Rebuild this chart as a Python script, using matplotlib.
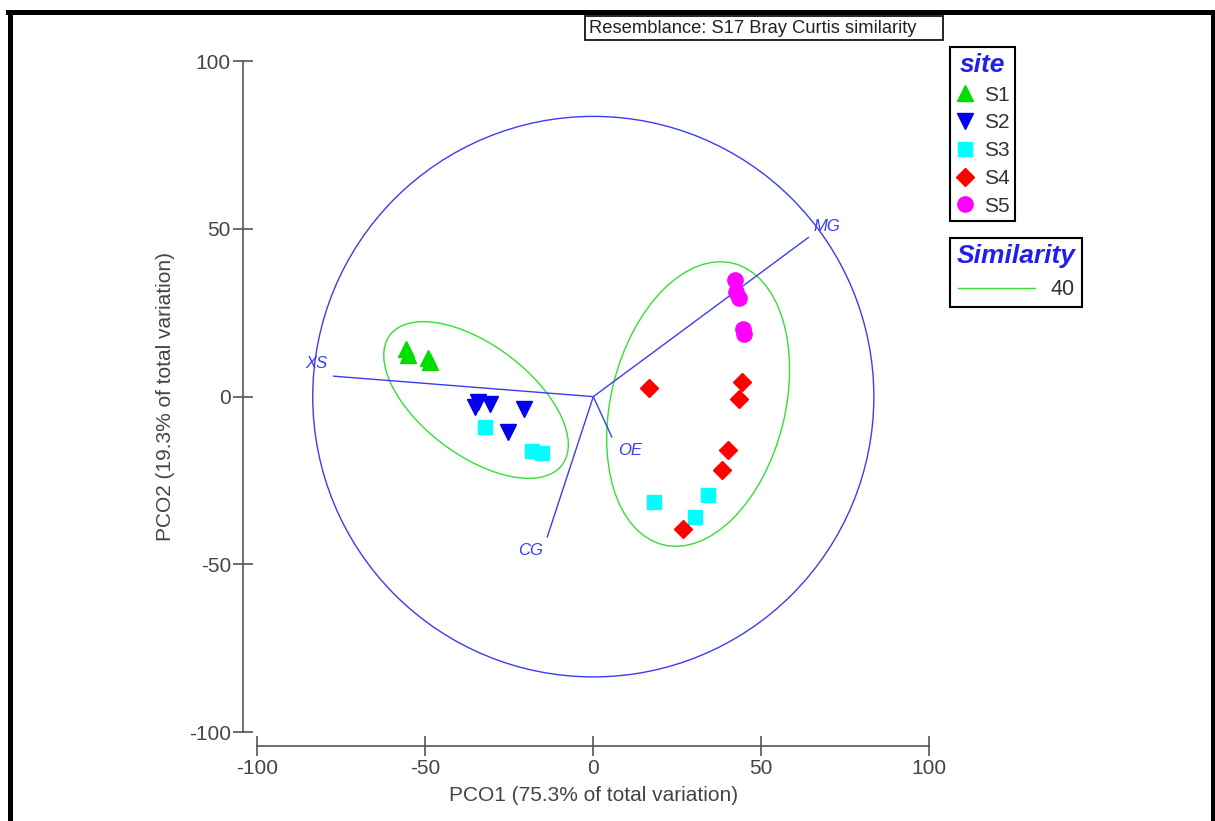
import matplotlib.pyplot as plt
import numpy as np
from matplotlib.patches import Ellipse, Circle, Rectangle
from matplotlib.lines import Line2D
from matplotlib.font_manager import FontProperties

plt.rcParams['font.family'] = ['Liberation Sans', 'DejaVu Sans']
plt.rcParams['axes.unicode_minus'] = False

# sample scores on PCO1 / PCO2, per site
s1_x = [-55.7, -55.1, -49.2, -48.6]
s1_y = [14.2, 12.4, 11.5, 10.3]
s2_x = [-35.2, -34.3, -30.8, -20.7, -25.4]
s2_y = [-3.1, -1.6, -2.2, -3.7, -10.6]
s3_x = [-32.2, -18.2, -15.3, 18.1, 30.2, 34.1]
s3_y = [-9.1, -16.2, -16.8, -31.5, -36.0, -29.3]
s4_x = [16.7, 44.4, 43.4, 40.1, 38.3, 26.6]
s4_y = [2.5, 4.4, -0.8, -16.0, -21.8, -39.4]
s5_x = [42.1, 42.6, 43.4, 44.6, 44.8]
s5_y = [34.8, 31.3, 29.3, 20.3, 18.6]

sites = ['S1', 'S2', 'S3', 'S4', 'S5']

# vector overlay (variable correlations)
vec_names = ['MG', 'XS', 'OE', 'CG']
vec_x = [64.0, -77.3, 5.5, -13.7]
vec_y = [47.4, 6.1, -12.0, -41.8]
vec_lab_x = [69.5, -82.4, 10.9, -18.8]
vec_lab_y = [50.8, 9.9, -15.9, -45.7]

circle_r = 83.5

# similarity 40 contours: centre x, centre y, width, height, angle
clus_cx = [-34.9, 31.2]
clus_cy = [-1.0, -2.2]
clus_w = [64.2, 86.4]
clus_h = [32.8, 51.8]
clus_ang = [-37, 76]

W, H = 1215, 821
fig = plt.figure(figsize=(W / 100, H / 100), dpi=100)
ax = fig.add_axes([257.3 / W, 1 - 732.3 / H, 672 / W, 671.3 / H])
ax.set_xlim(-100, 100)
ax.set_ylim(-100, 100)

blue = '#3c3cf0'
ax.add_patch(Circle((0, 0), circle_r, fill=False, ec=blue, lw=1.0))
for cx, cy, w, h, a in zip(clus_cx, clus_cy, clus_w, clus_h, clus_ang):
    ax.add_patch(Ellipse((cx, cy), w, h, angle=a, fill=False, ec='#33e033', lw=1.0))
for vx, vy, n, lx, ly in zip(vec_x, vec_y, vec_names, vec_lab_x, vec_lab_y):
    ax.plot([0, vx], [0, vy], color=blue, lw=1.0)
    ax.text(lx, ly, n, color=blue, fontsize=12, style='italic', ha='center', va='center')

ms = 11
h1, = ax.plot(s1_x, s1_y, '^', color='#00dd00', ms=ms, ls='none')
h2, = ax.plot(s2_x, s2_y, 'v', color='#0000ee', ms=ms, ls='none')
h3, = ax.plot(s3_x, s3_y, 's', color='#00ffff', ms=ms - 1, ls='none')
h4, = ax.plot(s4_x, s4_y, 'D', color='#ff0000', ms=ms - 2, ls='none')
h5, = ax.plot(s5_x, s5_y, 'o', color='#ff00ff', ms=ms, ls='none')

# axes styling
for s in ['top', 'right']:
    ax.spines[s].set_visible(False)
ax.spines['left'].set_position(('outward', 10))
ax.spines['bottom'].set_position(('outward', 10))
ax.spines['left'].set_bounds(-100, 100)
ax.spines['bottom'].set_bounds(-100, 100)
for s in ['left', 'bottom']:
    ax.spines[s].set_color('#555555')
    ax.spines[s].set_linewidth(1.2)
ax.set_xticks([-100, -50, 0, 50, 100])
ax.set_yticks([-100, -50, 0, 50, 100])
ax.tick_params(direction='inout', length=14, width=1.2, color='#555555',
               labelsize=15, labelcolor='#444444', pad=2)
ax.set_xlabel('PCO1 (75.3% of total variation)', fontsize=15, color='#444444', labelpad=6)
ax.set_ylabel('PCO2 (19.3% of total variation)', fontsize=15, color='#444444', labelpad=10)

# site legend
title_fp = FontProperties(family='Liberation Sans', weight='bold', style='italic', size=19)
leg1 = fig.legend([h1, h2, h3, h4, h5], sites, loc='upper left',
                  bbox_to_anchor=(950 / W, 1 - 47 / H), title='site',
                  title_fontproperties=title_fp, fancybox=False, edgecolor='black',
                  fontsize=15, labelspacing=0.42, handlelength=0.9, handletextpad=0.45,
                  borderpad=0.28, borderaxespad=0, framealpha=1)
leg1.get_title().set_color('#2020ee')
leg1.get_frame().set_linewidth(1.5)
for t in leg1.get_texts():
    t.set_color('#333333')

sim_line = Line2D([], [], color='#33e033', lw=1.0)
leg2 = fig.legend([sim_line], ['40'], loc='upper left',
                  bbox_to_anchor=(950 / W, 1 - 238 / H), title='Similarity',
                  title_fontproperties=title_fp, fancybox=False, edgecolor='black',
                  fontsize=15.5, handlelength=3.6, handletextpad=0.7,
                  borderpad=0.3, borderaxespad=0, framealpha=1)
leg2.get_title().set_color('#2020ee')
leg2.get_frame().set_linewidth(1.5)
for t in leg2.get_texts():
    t.set_color('#333333')

# resemblance label box
fig.add_artist(Rectangle((585 / W, 1 - 40 / H), 358 / W, 24 / H, transform=fig.transFigure,
                         fill=False, ec='black', lw=1.2))
fig.text(589 / W, 1 - 28.5 / H, 'Resemblance: S17 Bray Curtis similarity',
         fontsize=13.2, color='#222222', va='center', ha='left')

# outer frame
fig.add_artist(Line2D([10 / W, 10 / W], [0, 1 - 12 / H], transform=fig.transFigure, color='black', lw=3.6))
fig.add_artist(Line2D([8 / W, 1], [1 - 12 / H, 1 - 12 / H], transform=fig.transFigure, color='black', lw=3.6))
fig.add_artist(Line2D([1213 / W, 1213 / W], [0, 1 - 12 / H], transform=fig.transFigure, color='black', lw=3.6))

fig.savefig('out.png', dpi=100)
